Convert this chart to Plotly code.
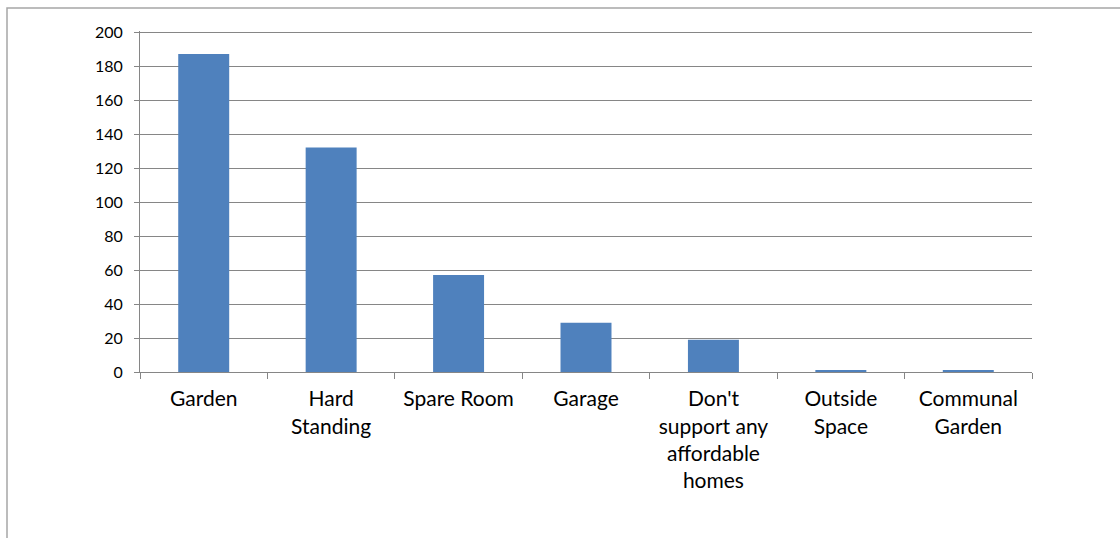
import plotly.graph_objects as go

categories = ["Garden", "Hard<br>Standing", "Spare Room", "Garage",
              "Don't<br>support any<br>affordable<br>homes", "Outside<br>Space", "Communal<br>Garden"]
values = [187, 132, 57, 29, 19, 1, 1]
y_ticks = [0, 20, 40, 60, 80, 100, 120, 140, 160, 180, 200]

W, H = 1120, 538
L, R, T, B = 140, 88, 31, 166
pw, ph = W - L - R, H - T - B

fig = go.Figure(go.Bar(x=categories, y=values, marker=dict(color="#4f81bd", line=dict(width=0)),
                       width=0.4))

fig.update_layout(
    width=W, height=H,
    margin=dict(l=L, r=R, t=T, b=B),
    paper_bgcolor="white", plot_bgcolor="white",
    font=dict(family="Lato, Open Sans, sans-serif", size=16, color="#000000"),
    showlegend=False,
    xaxis=dict(showline=True, linecolor="#868686", linewidth=1, ticks="outside",
               tickson="boundaries", ticklen=6, tickcolor="#868686",
               tickfont=dict(size=21), showgrid=False, ticklabelstandoff=8),
    yaxis=dict(range=[0, 200.6], tickvals=y_ticks, showline=True, linecolor="#868686", linewidth=1,
               ticks="outside", ticklen=5, tickcolor="#868686", showgrid=True,
               gridcolor="#868686", gridwidth=1, zeroline=False, tickfont=dict(size=16),
               ticklabelstandoff=8),
    shapes=[dict(type="rect", xref="paper", yref="paper",
                 x0=(7 - L) / pw, x1=(W + 10 - L) / pw,
                 y0=-(H + 10 - T - ph) / ph, y1=1 + (T - 8) / ph,
                 line=dict(color="#a6a6a6", width=1.5), fillcolor="rgba(0,0,0,0)", layer="below")],
)

fig.write_html("out.html")
